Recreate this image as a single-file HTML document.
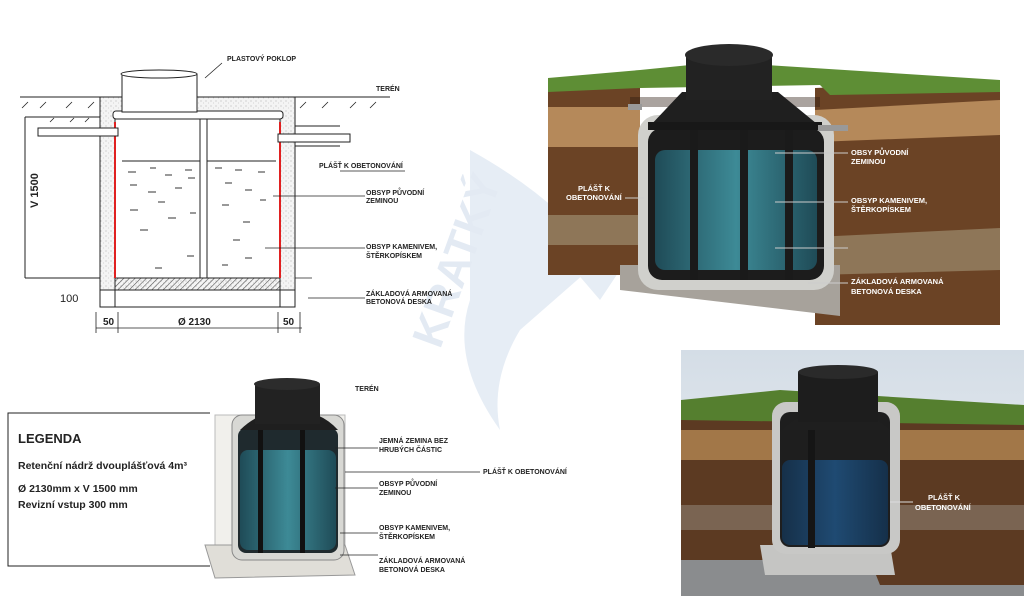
<!DOCTYPE html>
<html><head><meta charset="utf-8"><style>
html,body{margin:0;padding:0;background:#fff;}
svg{display:block;font-family:"Liberation Sans",sans-serif;}
.l{font-size:7px;font-weight:bold;fill:#222;}
.w{font-size:7.5px;font-weight:bold;fill:#fff;}
</style></head><body>
<svg width="1024" height="596" viewBox="0 0 1024 596" xmlns="http://www.w3.org/2000/svg">
<defs>
<linearGradient id="water" x1="0" x2="1"><stop offset="0" stop-color="#1f4b57"/><stop offset=".5" stop-color="#3d8a96"/><stop offset="1" stop-color="#1f4b57"/></linearGradient>
<linearGradient id="water2" x1="0" x2="1"><stop offset="0" stop-color="#163049"/><stop offset=".5" stop-color="#1f4a72"/><stop offset="1" stop-color="#15304a"/></linearGradient>
<linearGradient id="sky" x1="0" y1="0" x2="0" y2="1"><stop offset="0" stop-color="#d4dde6"/><stop offset="1" stop-color="#eef2f5"/></linearGradient>
<pattern id="hatch" width="4" height="4" patternUnits="userSpaceOnUse" patternTransform="rotate(45)"><line x1="0" y1="0" x2="0" y2="4" stroke="#555" stroke-width="1.2"/></pattern>
<pattern id="dots" width="5" height="5" patternUnits="userSpaceOnUse"><rect width="5" height="5" fill="#f4f4f4"/><circle cx="1" cy="1" r=".5" fill="#999"/><circle cx="3.5" cy="3" r=".4" fill="#aaa"/></pattern>
</defs>

<!-- watermark -->
<path d="M470 150 Q560 200 600 260 L520 330 Q490 380 500 430 Q450 360 470 300 Z" fill="#e6edf5"/>
<path d="M540 230 L600 260 L640 240 L600 300 Z" fill="#e6edf5"/>
<text x="0" y="0" transform="translate(440,350) rotate(-70)" font-size="44" font-weight="bold" fill="#e3eaf3">KRATKÝ</text>

<!-- ===== Technical drawing ===== -->
<g stroke="#222" fill="none" stroke-width="1">
<line x1="20" y1="97" x2="100" y2="97"/>
<line x1="295" y1="97" x2="390" y2="97"/>
<g stroke-width=".8">
<line x1="22" y1="108" x2="28" y2="102"/><line x1="40" y1="108" x2="46" y2="102"/><line x1="66" y1="108" x2="72" y2="102"/><line x1="88" y1="108" x2="94" y2="102"/>
<line x1="300" y1="108" x2="306" y2="102"/><line x1="322" y1="108" x2="328" y2="102"/><line x1="350" y1="108" x2="356" y2="102"/><line x1="370" y1="108" x2="376" y2="102"/>
<line x1="50" y1="122" x2="54" y2="118"/><line x1="70" y1="122" x2="74" y2="118"/><line x1="85" y1="122" x2="89" y2="118"/>
</g>
<line x1="25" y1="117" x2="100" y2="117"/>
<line x1="25" y1="117" x2="25" y2="278"/><line x1="25" y1="278" x2="100" y2="278"/>
<line x1="295" y1="126" x2="340" y2="126"/><line x1="295" y1="146" x2="340" y2="146"/>
</g>
<rect x="100" y="97" width="195" height="210" fill="url(#dots)" stroke="#222"/>
<rect x="115" y="117" width="165" height="161" fill="#fff" stroke="#222"/>
<rect x="113" y="111" width="170" height="8" rx="3" fill="#fff" stroke="#222"/>
<rect x="115" y="278" width="165" height="12" fill="url(#hatch)" stroke="#222"/>
<rect x="100" y="290" width="195" height="17" fill="#fff" stroke="#222"/>
<line x1="115" y1="290" x2="115" y2="307" stroke="#222"/><line x1="280" y1="290" x2="280" y2="307" stroke="#222"/>
<rect x="200" y="119" width="7" height="159" fill="#fff" stroke="#222"/>
<line x1="122" y1="161" x2="200" y2="161" stroke="#222"/><line x1="207" y1="161" x2="276" y2="161" stroke="#222"/>
<line x1="115" y1="122" x2="115" y2="278" stroke="#e02020" stroke-width="2"/>
<line x1="280" y1="122" x2="280" y2="278" stroke="#e02020" stroke-width="2"/>
<rect x="122" y="74" width="75" height="38" fill="#fff" stroke="#222"/>
<ellipse cx="159" cy="74" rx="38" ry="4" fill="#fff" stroke="#222"/>
<rect x="38" y="128" width="80" height="8" fill="#fff" stroke="#222"/>
<rect x="278" y="134" width="72" height="8" fill="#fff" stroke="#222"/>
<g stroke="#333" stroke-width="1">
<line x1="128" y1="172" x2="136" y2="172"/><line x1="150" y1="168" x2="156" y2="168"/><line x1="165" y1="175" x2="172" y2="175"/><line x1="185" y1="170" x2="192" y2="170"/>
<line x1="130" y1="185" x2="137" y2="185"/><line x1="148" y1="192" x2="156" y2="192"/><line x1="175" y1="188" x2="182" y2="188"/><line x1="188" y1="178" x2="195" y2="178"/>
<line x1="130" y1="210" x2="138" y2="210"/><line x1="158" y1="202" x2="165" y2="202"/><line x1="168" y1="218" x2="176" y2="218"/><line x1="190" y1="213" x2="196" y2="213"/>
<line x1="140" y1="230" x2="148" y2="230"/><line x1="155" y1="268" x2="162" y2="268"/><line x1="187" y1="256" x2="194" y2="256"/>
<line x1="215" y1="168" x2="222" y2="168"/><line x1="235" y1="170" x2="242" y2="170"/><line x1="258" y1="172" x2="265" y2="172"/><line x1="225" y1="183" x2="232" y2="183"/>
<line x1="245" y1="190" x2="252" y2="190"/><line x1="260" y1="200" x2="266" y2="200"/><line x1="222" y1="205" x2="229" y2="205"/><line x1="243" y1="222" x2="250" y2="222"/>
<line x1="233" y1="240" x2="240" y2="240"/><line x1="245" y1="258" x2="252" y2="258"/><line x1="222" y1="265" x2="228" y2="265"/>
</g>
<g stroke="#222" stroke-width=".8">
<line x1="340" y1="171" x2="405" y2="171"/>
<line x1="273" y1="196" x2="365" y2="196"/>
<line x1="265" y1="248" x2="365" y2="248"/>
<line x1="308" y1="298" x2="365" y2="298"/>
<line x1="295" y1="278" x2="312" y2="278"/>
<line x1="96" y1="328" x2="302" y2="328"/>
<line x1="96" y1="312" x2="96" y2="333"/><line x1="118" y1="312" x2="118" y2="333"/><line x1="278" y1="312" x2="278" y2="333"/><line x1="300" y1="312" x2="300" y2="333"/>
<line x1="222" y1="63" x2="205" y2="78"/>
</g>
<text class="l" x="227" y="61">PLASTOVÝ POKLOP</text>
<text class="l" x="376" y="91">TERÉN</text>
<text class="l" x="319" y="168">PLÁŠŤ K OBETONOVÁNÍ</text>
<text class="l" x="366" y="195">OBSYP PŮVODNÍ</text><text class="l" x="366" y="203">ZEMINOU</text>
<text class="l" x="366" y="249">OBSYP KAMENIVEM,</text><text class="l" x="366" y="258">ŠTĚRKOPÍSKEM</text>
<text class="l" x="366" y="296">ZÁKLADOVÁ ARMOVANÁ</text><text class="l" x="366" y="304">BETONOVÁ DESKA</text>
<text x="60" y="302" font-size="11" fill="#222">100</text>
<text x="103" y="325" font-size="10" font-weight="bold" fill="#222">50</text>
<text x="178" y="325" font-size="10" font-weight="bold" fill="#222">Ø 2130</text>
<text x="283" y="325" font-size="10" font-weight="bold" fill="#222">50</text>
<text transform="translate(38,208) rotate(-90)" font-size="11" font-weight="bold" fill="#222">V 1500</text>

<!-- ===== Top-right 3D ===== -->
<polygon points="548,86 640,86 640,275 548,275" fill="#6b4325"/>
<rect x="548" y="107" width="92" height="40" fill="#b5895a"/>
<rect x="548" y="215" width="92" height="30" fill="#8e7658"/>
<polygon points="548,78 640,70 640,88 548,92" fill="#5e8e35"/>
<polygon points="815,88 1000,80 1000,325 815,325" fill="#6b4325"/>
<polygon points="815,110 1000,100 1000,135 815,142" fill="#b5895a"/>
<polygon points="815,237 1000,228 1000,270 815,275" fill="#8e7658"/>
<polygon points="640,70 720,62 1000,80 1000,92 830,95 820,85 640,88" fill="#5e8e35"/>
<rect x="630" y="97" width="190" height="10" fill="#2a1a10" opacity=".4"/>
<polygon points="620,265 840,265 840,316 620,290" fill="#a7a29b"/>
<rect x="638" y="115" width="196" height="175" rx="20" fill="#d0d0cc"/>
<rect x="648" y="128" width="176" height="152" rx="14" fill="#1c1c1c"/>
<rect x="655" y="150" width="162" height="120" rx="10" fill="url(#water)"/>
<g fill="#1a1a1a"><rect x="690" y="130" width="8" height="150"/><rect x="740" y="130" width="8" height="150"/><rect x="785" y="130" width="8" height="150"/></g>
<polygon points="648,128 682,92 778,92 822,128" fill="#1f1f1f"/>
<rect x="648" y="122" width="174" height="8" fill="#181818"/>
<rect x="686" y="55" width="86" height="45" fill="#222"/>
<ellipse cx="729" cy="55" rx="44" ry="11" fill="#2a2a2a"/>
<rect x="628" y="104" width="14" height="6" fill="#999"/><rect x="818" y="125" width="30" height="6" fill="#999"/>
<g stroke="#ccc" stroke-width="1"><line x1="775" y1="153" x2="848" y2="153"/><line x1="775" y1="202" x2="848" y2="202"/><line x1="775" y1="248" x2="848" y2="248"/><line x1="625" y1="198" x2="644" y2="198"/><line x1="808" y1="283" x2="848" y2="283"/></g>
<text class="w" x="851" y="155">OBSY PŮVODNÍ</text><text class="w" x="851" y="164">ZEMINOU</text>
<text class="w" x="851" y="203">OBSYP KAMENIVEM,</text><text class="w" x="851" y="212">ŠTĚRKOPÍSKEM</text>
<text class="w" x="851" y="284">ZÁKLADOVÁ ARMOVANÁ</text><text class="w" x="851" y="294">BETONOVÁ DESKA</text>
<text class="w" x="578" y="191">PLÁŠŤ K</text><text class="w" x="566" y="200">OBETONOVÁNÍ</text>

<!-- ===== Bottom-left ===== -->
<polyline points="210,413 8,413 8,566 210,566" fill="none" stroke="#222" stroke-width="1"/>
<rect x="215" y="415" width="130" height="145" fill="#f1f0ec" stroke="#bbb"/>
<polygon points="205,545 345,545 355,575 215,578" fill="#e0ded8" stroke="#999"/>
<rect x="232" y="415" width="112" height="145" rx="10" fill="#d8d8d4" stroke="#888"/>
<rect x="238" y="428" width="100" height="125" rx="8" fill="#1f2a2e"/>
<rect x="240" y="450" width="96" height="100" rx="8" fill="url(#water)"/>
<g fill="#111"><rect x="258" y="425" width="5" height="128"/><rect x="300" y="425" width="5" height="128"/></g>
<path d="M240 430 Q260 410 290 410 Q320 410 338 430 Z" fill="#1f1f1f"/>
<rect x="255" y="384" width="65" height="40" fill="#222"/>
<ellipse cx="287" cy="384" rx="33" ry="6" fill="#2c2c2c"/>
<g stroke="#222" stroke-width=".8"><line x1="335" y1="448" x2="378" y2="448"/><line x1="345" y1="472" x2="480" y2="472"/><line x1="335" y1="488" x2="378" y2="488"/><line x1="340" y1="533" x2="378" y2="533"/><line x1="340" y1="555" x2="378" y2="555"/></g>
<text class="l" x="355" y="391">TERÉN</text>
<text class="l" x="379" y="443">JEMNÁ ZEMINA BEZ</text><text class="l" x="379" y="452">HRUBÝCH ČÁSTIC</text>
<text class="l" x="483" y="474">PLÁŠŤ K OBETONOVÁNÍ</text>
<text class="l" x="379" y="486">OBSYP PŮVODNÍ</text><text class="l" x="379" y="495">ZEMINOU</text>
<text class="l" x="379" y="530">OBSYP KAMENIVEM,</text><text class="l" x="379" y="539">ŠTĚRKOPÍSKEM</text>
<text class="l" x="379" y="563">ZÁKLADOVÁ ARMOVANÁ</text><text class="l" x="379" y="572">BETONOVÁ DESKA</text>
<text x="18" y="443" font-size="13" font-weight="bold" fill="#222">LEGENDA</text>
<text x="18" y="469" font-size="10.5" font-weight="bold" fill="#222">Retenční nádrž dvouplášťová 4m³</text>
<text x="18" y="492" font-size="10.5" font-weight="bold" fill="#222">Ø 2130mm x V 1500 mm</text>
<text x="18" y="508" font-size="10.5" font-weight="bold" fill="#222">Revizní vstup 300 mm</text>

<!-- ===== Bottom-right ===== -->
<rect x="681" y="350" width="343" height="246" fill="url(#sky)"/>
<rect x="681" y="555" width="343" height="41" fill="#8a8c8e"/>
<polygon points="681,415 1024,420 1024,585 880,585 870,560 681,560" fill="#5c3a22"/>
<rect x="681" y="430" width="343" height="30" fill="#a27748"/>
<rect x="681" y="505" width="343" height="25" fill="#7a6452"/>
<polygon points="681,400 780,390 1024,405 1024,425 681,420" fill="#557f2f"/>
<polygon points="760,545 890,545 895,575 765,575" fill="#c5c5c3"/>
<rect x="772" y="402" width="128" height="152" rx="14" fill="#c8c8c6"/>
<rect x="780" y="412" width="110" height="135" rx="10" fill="#1e1e1e"/>
<rect x="782" y="460" width="106" height="85" rx="8" fill="url(#water2)"/>
<rect x="808" y="420" width="7" height="128" fill="#151515"/>
<path d="M782 430 Q800 410 838 410 Q870 410 890 430 Z" fill="#1f1f1f"/>
<rect x="798" y="372" width="80" height="50" fill="#1d1d1d"/>
<ellipse cx="838" cy="372" rx="40" ry="7" fill="#2a2a2a"/>
<line x1="890" y1="502" x2="913" y2="502" stroke="#ddd"/>
<text class="w" x="928" y="500">PLÁŠŤ K</text><text class="w" x="915" y="510">OBETONOVÁNÍ</text>
</svg>
</body></html>
